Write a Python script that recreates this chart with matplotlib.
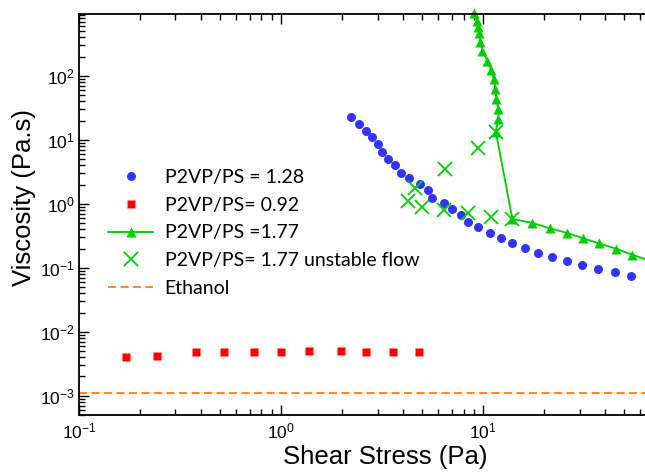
import numpy as np
import matplotlib
matplotlib.use("Agg")
import matplotlib.pyplot as plt
from matplotlib.ticker import LogLocator, NullFormatter

plt.rcParams["font.family"] = ["Liberation Sans", "DejaVu Sans"]

# P2VP/PS = 1.28
stress_128 = [2.23, 2.43, 2.62, 2.82, 3.02, 3.16, 3.40, 3.65, 3.92, 4.31, 4.85, 5.31,
              5.58, 6.41, 7.00, 7.76, 8.46, 9.45, 10.8, 12.3, 13.9, 16.1, 18.7, 21.8,
              25.9, 30.9, 37.0, 44.9, 54.2]
visc_128 = [22.9, 18.0, 14.0, 11.1, 8.57, 6.49, 5.05, 4.03, 3.08, 2.50, 2.02, 1.63,
            1.24, 1.04, 0.83, 0.666, 0.529, 0.437, 0.356, 0.291, 0.243, 0.203, 0.173,
            0.147, 0.129, 0.110, 0.0965, 0.0857, 0.075]

# P2VP/PS = 0.92
stress_092 = [0.171, 0.242, 0.381, 0.522, 0.731, 1.00, 1.38, 1.97, 2.64, 3.58, 4.84]
visc_092 = [4.0e-3, 4.2e-3, 4.8e-3, 4.8e-3, 4.9e-3, 4.9e-3, 5.0e-3, 5.0e-3, 4.9e-3,
            4.9e-3, 4.8e-3]

# P2VP/PS = 1.77
stress_177 = [8.96, 9.31, 9.48, 9.59, 9.70, 9.92, 10.5, 10.95, 11.3, 11.5, 11.6, 11.9,
              11.9, 11.55, 13.95, 17.5, 21.4, 26.0, 31.3, 37.4, 45.2, 54.4, 66.0]
visc_177 = [955, 731, 589, 465, 340, 246, 172, 124, 88.8, 62.0, 43.3, 30.2, 21.1, 13.5,
            0.577, 0.505, 0.414, 0.352, 0.289, 0.241, 0.200, 0.161, 0.131]

# P2VP/PS = 1.77, unstable flow
stress_unst = [4.26, 4.62, 4.98, 6.38, 6.48, 8.46, 9.45, 10.98, 11.55, 13.95]
visc_unst = [1.11, 1.78, 0.888, 0.79, 3.52, 0.716, 7.42, 0.633, 13.5, 0.577]

visc_ethanol = 1.1e-3

fig = plt.figure(figsize=(6.45, 4.72), dpi=100)
ax = fig.add_axes([79 / 645, 57 / 472, 581 / 645, 401 / 472])

ax.plot(stress_128, visc_128, "o", color="#3333ff", ms=6.5, mec="none",
        label="P2VP/PS = 1.28")
ax.plot(stress_092, visc_092, "s", color="#ff0000", ms=6, mec="none",
        label="P2VP/PS= 0.92")
ax.plot(stress_177, visc_177, "-^", color="#00cc00", ms=6.5, lw=1.3, mec="none",
        label="P2VP/PS =1.77", clip_on=False)
ax.plot(stress_unst, visc_unst, "x", color="#00cc00", ms=10, mew=1.3,
        label="P2VP/PS= 1.77 unstable flow")
ax.axhline(visc_ethanol, color="#ff8833", lw=1.5, ls=(0, (3.9, 2.1)), label="Ethanol")

ax.set_xscale("log")
ax.set_yscale("log")
ax.set_xlim(0.1, 75)
ax.set_ylim(5.0e-4, 930)

for axis in (ax.xaxis, ax.yaxis):
    axis.set_major_locator(LogLocator(base=10, numticks=20))
    axis.set_minor_locator(LogLocator(base=10, subs=np.arange(2, 10), numticks=20))
    axis.set_minor_formatter(NullFormatter())

ax.tick_params(which="both", direction="in", top=True, right=True, width=1.0,
               labelsize=12.5)
ax.tick_params(axis="x", which="major", length=7, pad=5)
ax.tick_params(axis="y", which="major", length=7, pad=3)
ax.tick_params(which="minor", length=4)
for sp in ax.spines.values():
    sp.set_linewidth(1.3)

ax.set_xlabel("Shear Stress (Pa)", fontsize=18.5)
ax.set_ylabel("Viscosity (Pa.s)", fontsize=18.5)
ax.xaxis.set_label_coords(0.527, -0.075)
ax.yaxis.set_label_coords(-0.074, 0.542)

ax.legend(loc="upper left", bbox_to_anchor=(0.037, 0.633), frameon=False,
          prop={"family": "Lato", "size": 14}, handlelength=2.3,
          handletextpad=0.6, labelspacing=0.55, borderaxespad=0)

fig.savefig("out.png", dpi=100)
